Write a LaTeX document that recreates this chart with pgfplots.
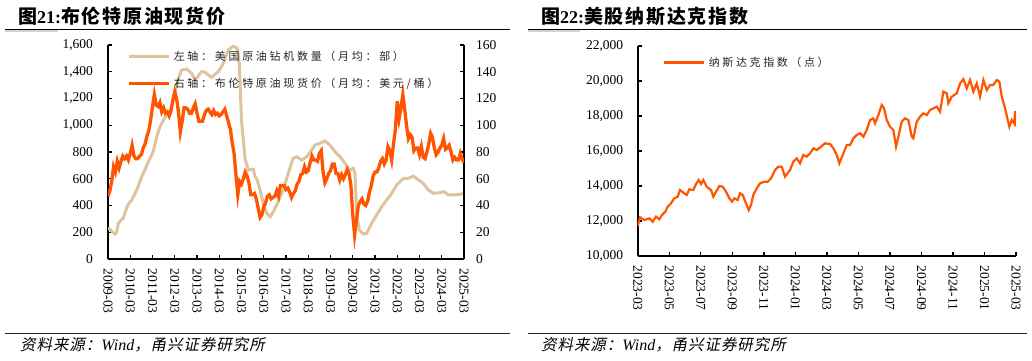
\documentclass[border=0pt]{standalone}
\usepackage{pgfplots}
\pgfplotsset{compat=1.18}
\usepackage{fontspec}
\setmainfont{Liberation Serif}
\newfontfamily\cjkT{Noto Sans CJK SC}[LetterSpace=9]
\newfontfamily\cjkL{Noto Sans CJK SC}
\newfontfamily\cjkS{Noto Sans CJK SC}[FakeSlant=0.2,LetterSpace=6]
\definecolor{myorange}{RGB}{255,85,0}
\definecolor{mytan}{RGB}{222,196,158}
\newdimen\csp
\def\spacedA#1{\csp=2.7pt\relax\spacedaux#1\relax}
\def\spacedB#1{\csp=2.6pt\relax\spacedaux#1\relax}
\def\spacedaux#1{\ifx#1\relax\else #1\hskip\csp\relax\expandafter\spacedaux\fi}
\pgfplotsset{
  base/.style={scale only axis, tick align=inside, major tick length=4pt,
    axis line style={line width=1.6pt, black},
    major tick style={line width=1.4pt, black},
    ticklabel style={font=\fontsize{13.5}{15}\selectfont},
    /pgf/number format/assume math mode=true,
    /pgf/number format/1000 sep={,},
    scaled y ticks=false,
    xticklabel style={rotate=-90, anchor=west},
    xticklabel shift=6pt,
    legend cell align=left,
    legend image code/.code={\draw[##1,line width=3pt] (0pt,0pt) -- (40pt,0pt);},
  },
}
\pgfplotstableread{
m v
0 232
1.1 222
2.5 200
3.8 187
4.6 200
5.6 267
7 290
8.3 306
10 381
11.5 420
12.8 441
15.5 516
18.2 615
21.8 728
24.4 802
26.3 914
28 989
30.7 1059
33.4 1101
35.2 1189
37.9 1351
39.7 1413
42.4 1420
45.1 1388
46.9 1338
48.7 1370
50.5 1401
52.5 1395
54.1 1376
55.9 1358
57.7 1380
59.5 1401
62.2 1463
64.9 1563
67.6 1593
69.7 1575
70.8 1463
72.0 1040
73.9 750
75.7 665
77.5 670
78.4 671
79.3 615
80.2 603
82 516
83.8 416
85.6 342
87.4 316
89.2 354
91.8 428
94.5 516
97.2 641
99.9 753
101.8 765
104.5 740
107.2 765
109.9 815
111.6 852
114.3 865
117 882
119.7 852
122.4 802
125.1 765
127.8 715
130.5 665
132.3 678
133.2 641
134.1 342
135.5 217
137.7 187
139.5 192
142.2 267
144.9 329
147.6 391
150.3 441
153 491
155.7 553
159.3 603
162 603
164.7 620
167.4 591
170 566
172.8 516
175.5 491
179 496
181.2 503
183.5 479
186.2 479
189.8 484
192 491
}\rigs
\pgfplotstableread{
m v
0 47
1 51
2 58
3 69
4 65
5 73
6 68
7 73
8 77
9 75
10 77
11 74
12 79
13 85
14 77
15 75
16 75
17 77
18 78
19 83
20 86
21 92
22 96
23 104
24 114
25 123
26 115
27 114
28 117
29 110
30 113
31 109
32 110
33 107
34 111
35 119
36 125
37 120
38 110
39 95
40 103
41 113
42 113
43 112
44 109
45 109
46 113
47 116
48 109
49 103
50 103
51 103
52 108
53 111
54 112
55 110
56 108
57 111
58 108
59 109
60 107
61 108
62 110
63 112
64 107
65 102
66 97
67 87
68 79
69 63
70 48
71 58
72 56
73 60
74 65
75 62
76 57
77 48
78 48
79 49
80 45
81 38
82 31
83 33
84 39
85 42
86 47
87 48
88 45
89 46
90 47
91 51
92 47
93 55
94 55
95 55
96 52
97 53
98 50
99 46
100 49
101 51
102 56
103 58
104 63
105 64
106 69
107 65
108 66
109 72
110 77
111 74
112 74
113 73
114 79
115 81
116 65
117 57
118 60
119 64
120 66
121 71
122 71
123 64
124 64
125 59
126 63
127 60
128 63
129 67
130 64
131 55
132 33
133 18
134 29
135 40
136 43
137 45
138 41
139 40
140 43
141 50
142 55
143 62
144 65
145 65
146 68
147 73
148 75
149 71
150 74
151 84
152 81
153 74
154 86
155 97
156 118
157 105
158 113
159 123
160 112
161 100
162 90
163 93
164 91
165 81
166 83
167 83
168 78
169 84
170 76
171 75
172 80
173 86
174 94
175 91
176 83
177 78
178 80
179 83
180 85
181 90
182 82
183 83
184 85
185 80
186 74
187 76
188 74
189 74
190 79
191 75
192 72
}\brent
\pgfplotstableread{
m v
0 11714
0.146 12210
0.419 12057
0.736 12150
0.952 11960
1.161 12248
1.371 12100
1.542 12343
1.751 12533
1.904 12819
2.113 13010
2.322 13295
2.538 13390
2.684 13771
2.957 13581
3.109 13486
3.274 13810
3.528 13771
3.699 14114
3.870 14343
4.017 14114
4.162 14343
4.378 13962
4.651 13771
4.797 13390
4.968 13676
5.178 14000
5.393 13962
5.603 13676
5.812 13295
5.983 13105
6.129 13295
6.345 13200
6.491 13581
6.662 13486
6.827 13105
7.043 12629
7.189 12914
7.335 13486
7.551 13867
7.760 14152
8.033 14248
8.249 14248
8.458 14438
8.712 14914
8.921 15105
9.137 15105
9.346 14533
9.664 14914
9.873 15390
10.089 15581
10.298 15295
10.508 15771
10.723 15676
10.933 15867
11.142 16152
11.358 16057
11.567 16200
11.885 16438
12.202 16400
12.411 16152
12.627 15771
12.792 15295
13.008 15771
13.262 16343
13.471 16343
13.680 16724
13.896 16914
14.105 17010
14.315 16819
14.530 17200
14.740 17771
14.949 17867
15.057 17581
15.266 18057
15.482 18629
15.628 18438
15.799 17771
16.009 17390
16.218 17200
16.389 16248
16.535 16819
16.751 17676
16.960 17867
17.170 17771
17.386 16819
17.487 16724
17.703 17676
17.912 17962
18.122 18152
18.338 18057
18.547 18343
18.756 18438
18.972 18533
19.181 18248
19.391 19390
19.607 19295
19.708 18724
19.924 19105
20.241 19295
20.450 19867
20.660 20105
20.876 19581
21.085 20057
21.294 19390
21.510 19867
21.720 19105
21.929 20057
22.145 19486
22.354 19771
22.563 19771
22.779 20057
22.944 19962
23.096 19105
23.306 18438
23.452 17867
23.579 17390
23.731 17771
23.877 17581
23.950 18286
24.000 17390
}\nasdaq
\begin{document}
\begin{tikzpicture}[x=1pt,y=1pt]
\useasboundingbox (0,0) rectangle (1032,360);
% ---------- left panel frame text ----------
\draw[gray!35,line width=2pt] (5,329) -- (58,329);
\draw[black,line width=0.8pt] (5,330.5) -- (510,330.5);
\node[anchor=base west,inner sep=0pt] at (18,337) {{\cjkT\bfseries\fontsize{19}{20}\selectfont 图}{\bfseries\fontsize{18}{20}\selectfont 21:}{\cjkT\bfseries\fontsize{19}{20}\selectfont 布伦特原油现货价}};
\draw[black!85,line width=0.8pt] (5,27) -- (510,27);
\node[anchor=base west,inner sep=0pt] at (20,10) {{\cjkS\fontsize{15.5}{16}\selectfont 资料来源：}{\itshape\fontsize{16}{16}\selectfont Wind}{\cjkS\fontsize{15.5}{16}\selectfont ，甬兴证券研究所}};
% ---------- right panel frame text ----------
\draw[gray!35,line width=2pt] (528,329) -- (580,329);
\draw[black,line width=0.8pt] (528,330.5) -- (1027,330.5);
\node[anchor=base west,inner sep=0pt] at (541,337) {{\cjkT\bfseries\fontsize{19}{20}\selectfont 图}{\bfseries\fontsize{18}{20}\selectfont 22:}{\cjkT\bfseries\fontsize{19}{20}\selectfont 美股纳斯达克指数}};
\draw[black!85,line width=0.8pt] (528,27) -- (1027,27);
\node[anchor=base west,inner sep=0pt] at (541,10) {{\cjkS\fontsize{15.5}{16}\selectfont 资料来源：}{\itshape\fontsize{16}{16}\selectfont Wind}{\cjkS\fontsize{15.5}{16}\selectfont ，甬兴证券研究所}};

% ---------- left chart: rigs (left axis) ----------
\begin{axis}[base, at={(108pt,101pt)}, anchor=south west,
  width=356pt, height=214pt,
  xmin=0, xmax=192, ymin=0, ymax=1600,
  axis x line*=bottom, axis y line*=left,
  xtick={0,12,...,192},
  xticklabels={2009-03,2010-03,2011-03,2012-03,2013-03,2014-03,2015-03,2016-03,2017-03,2018-03,2019-03,2020-03,2021-03,2022-03,2023-03,2024-03,2025-03},
  ytick={0,200,...,1600},
  yticklabel shift=11.5pt,
]
\addplot[mytan, line width=3pt] table[x=m,y=v] {\rigs};
\end{axis}
% ---------- left chart: Brent (right axis) ----------
\begin{axis}[base, at={(108pt,101pt)}, anchor=south west,
  width=356pt, height=214pt,
  xmin=0, xmax=192, ymin=0, ymax=160,
  axis x line=none, axis y line*=right,
  ytick={0,20,...,160},
  yticklabel shift=8.5pt,
  legend style={at={(0.055,0.978)}, anchor=north west, draw=none, fill=none,
    inner sep=0pt, row sep=14pt, column sep=2pt,
    font=\cjkL\fontsize{11}{12}\selectfont\color{black!85}, nodes={inner sep=1pt}},
]
\addlegendimage{mytan, line width=3pt}
\addlegendentry{\spacedA{左轴：美国原油钻机数量（月均：部）}}
\addplot[myorange, line width=3.3pt] table[x=m,y=v] {\brent};
\addlegendentry{\spacedA{右轴：布伦特原油现货价（月均：美元/桶）}}
\end{axis}
% ---------- right chart: Nasdaq ----------
\begin{axis}[base, at={(637.7pt,104pt)}, anchor=south west,
  width=378.3pt, height=210pt,
  xmin=0, xmax=24, ymin=10000, ymax=22000,
  axis x line*=bottom, axis y line*=left,
  xtick={0,2,...,24},
  xticklabels={2023-03,2023-05,2023-07,2023-09,2023-11,2024-01,2024-03,2024-05,2024-07,2024-09,2024-11,2025-01,2025-03},
  ytick={10000,12000,...,22000},
  yticklabel shift=11pt,
  legend style={at={(0.066,0.955)}, anchor=north west, draw=none, fill=none,
    inner sep=0pt, column sep=2pt,
    font=\cjkL\fontsize{11}{12}\selectfont\color{black!85}, nodes={inner sep=1pt}},
]
\addplot[myorange, line width=2.2pt] table[x=m,y=v] {\nasdaq};
\addlegendentry{\spacedB{纳斯达克指数（点）}}
\end{axis}
\end{tikzpicture}
\end{document}
